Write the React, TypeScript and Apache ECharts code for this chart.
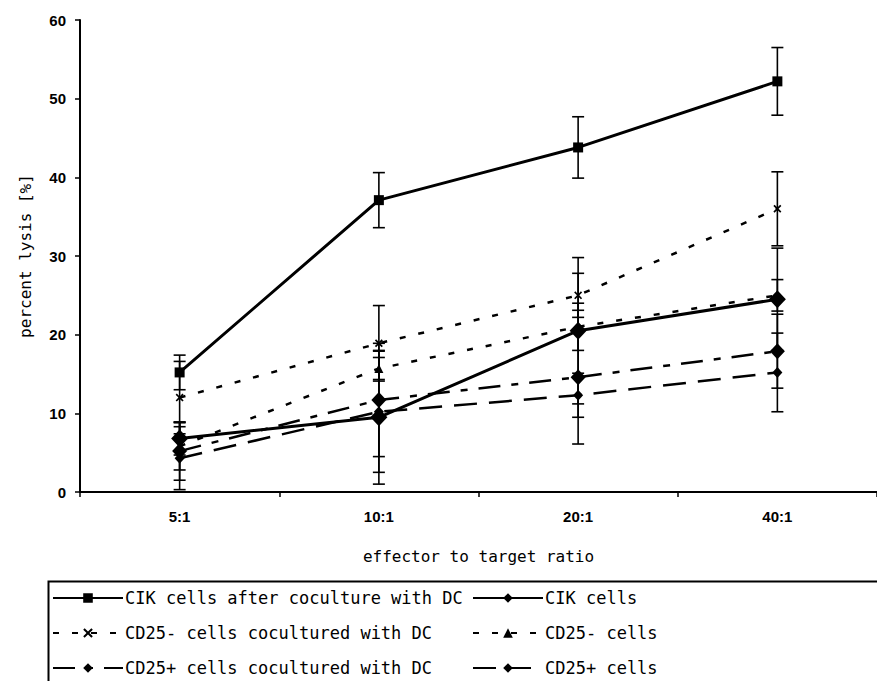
import React, { useEffect, useRef } from 'react';
import * as echarts from 'echarts';

const categories = ['5:1', '10:1', '20:1', '40:1'];

const cikAfterDC = [15.2, 37.1, 43.8, 52.2];
const cikAfterDCErr = [2.2, 3.5, 3.9, 4.3];
const cikCells = [6.8, 9.5, 20.5, 24.5];
const cikCellsErr = [2.1, 8.5, 9.3, 6.5];
const cd25NegDC = [12.0, 18.9, 25.0, 36.0];
const cd25NegDCErr = [4.6, 4.8, 2.8, 4.7];
const cd25NegCells = [5.8, 15.7, 21.0, 25.0];
const cd25NegCellsErr = [3.0, 1.4, 3.0, 2.0];
const cd25PosDC = [5.2, 11.7, 14.6, 17.9];
const cd25PosDCErr = [3.7, 7.2, 8.5, 4.7];
const cd25PosCells = [4.3, 10.2, 12.3, 15.2];
const cd25PosCellsErr = [4.0, 7.7, 2.8, 5.0];

const seriesNames = [
  'CIK cells after coculture with DC',
  'CIK cells',
  'CD25- cells cocultured with DC',
  'CD25- cells',
  'CD25+ cells cocultured with DC',
  'CD25+ cells',
];

const X_SYMBOL =
  'path://M0,1.5L1.5,0L5,3.5L8.5,0L10,1.5L6.5,5L10,8.5L8.5,10L5,6.5L1.5,10L0,8.5L3.5,5Z';

const MONO = '"DejaVu Sans Mono", monospace';
const SANS = '"Liberation Sans", Arial, sans-serif';

export default function App() {
  const ref = useRef<HTMLDivElement>(null);

  useEffect(() => {
    if (!ref.current) return;
    const chart = echarts.init(ref.current, undefined, { renderer: 'svg' });

    const defs = [
      { name: seriesNames[0], values: cikAfterDC, errs: cikAfterDCErr, width: 3, dash: 'solid' as any, symbol: 'rect', size: 10 },
      { name: seriesNames[1], values: cikCells, errs: cikCellsErr, width: 3, dash: 'solid' as any, symbol: 'diamond', size: [17, 18] },
      { name: seriesNames[2], values: cd25NegDC, errs: cd25NegDCErr, width: 2.5, dash: [6, 13], symbol: X_SYMBOL, size: 8 },
      { name: seriesNames[3], values: cd25NegCells, errs: cd25NegCellsErr, width: 2.5, dash: [6, 13], symbol: 'triangle', size: 9 },
      { name: seriesNames[4], values: cd25PosDC, errs: cd25PosDCErr, width: 2.5, dash: [22, 11, 7, 11], symbol: 'diamond', size: [15, 16] },
      { name: seriesNames[5], values: cd25PosCells, errs: cd25PosCellsErr, width: 2.5, dash: [23, 12], symbol: 'diamond', size: [10, 11] },
    ];

    const errData: number[][] = [];
    defs.forEach((d) => {
      d.values.forEach((v, i) => {
        errData.push([i, v - d.errs[i], v + d.errs[i]]);
      });
    });

    const lineSeries = defs.map((d) => ({
      type: 'line',
      name: d.name,
      data: d.values,
      symbol: d.symbol,
      symbolSize: d.size,
      showAllSymbol: true,
      z: 3,
      itemStyle: { color: '#000' },
      lineStyle: { color: '#000', width: d.width, type: d.dash },
      emphasis: { disabled: true },
    }));

    const legendPos = [
      [52, 598],
      [472, 598],
      [52, 633],
      [472, 633],
      [52, 668],
      [472, 668],
    ];

    const legends = seriesNames.map((n, i) => ({
      data: [n],
      left: legendPos[i][0],
      top: legendPos[i][1] - 9,
      padding: 0,
      itemWidth: 70,
      itemHeight: 12,
      itemGap: 0,
      selectedMode: false,
      textStyle: { fontFamily: MONO, fontSize: 17, color: '#000', lineHeight: 18, padding: [0, 0, 0, -3] },
    }));

    chart.setOption({
      animation: false,
      backgroundColor: '#fff',
      grid: { left: 80, top: 20, width: 808, height: 472, containLabel: false },
      legend: legends,
      xAxis: {
        type: 'category',
        data: categories,
        boundaryGap: true,
        name: 'effector to target ratio',
        nameLocation: 'middle',
        nameGap: 56,
        nameTextStyle: { fontFamily: MONO, fontSize: 16, color: '#000' },
        axisLine: { lineStyle: { color: '#000', width: 2 } },
        axisTick: { show: true, length: 5, inside: false, lineStyle: { color: '#000', width: 1.5 } },
        axisLabel: { margin: 17, fontFamily: SANS, fontSize: 15, fontWeight: 'bold', color: '#000' },
        splitLine: { show: false },
      },
      yAxis: {
        type: 'value',
        min: 0,
        max: 60,
        interval: 10,
        name: 'percent lysis [%]',
        nameLocation: 'middle',
        nameGap: 47,
        nameRotate: 90,
        nameTextStyle: { fontFamily: MONO, fontSize: 16, color: '#000' },
        axisLine: { show: true, lineStyle: { color: '#000', width: 2 } },
        axisTick: { show: true, length: 5, lineStyle: { color: '#000', width: 1.5 } },
        axisLabel: { margin: 14, fontFamily: SANS, fontSize: 15, fontWeight: 'bold', color: '#000' },
        splitLine: { show: false },
      },
      graphic: [
        {
          type: 'rect',
          left: 46,
          top: 579,
          shape: { width: 900, height: 200 },
          style: { fill: 'none', stroke: '#000', lineWidth: 2 },
          z: 0,
          silent: true,
        },
      ],
      series: [
        {
          type: 'custom',
          name: 'error',
          data: errData,
          encode: { x: 0, y: [1, 2] },
          z: 2,
          silent: true,
          renderItem: (params: any, api: any) => {
            const xi = api.value(0);
            const lo = api.coord([xi, api.value(1)]);
            const hi = api.coord([xi, api.value(2)]);
            const w = 6;
            const st = { stroke: '#000', lineWidth: 1.6 };
            return {
              type: 'group',
              children: [
                { type: 'line', shape: { x1: lo[0], y1: lo[1], x2: hi[0], y2: hi[1] }, style: st },
                { type: 'line', shape: { x1: lo[0] - w, y1: lo[1], x2: lo[0] + w, y2: lo[1] }, style: st },
                { type: 'line', shape: { x1: hi[0] - w, y1: hi[1], x2: hi[0] + w, y2: hi[1] }, style: st },
              ],
            };
          },
        },
        ...lineSeries,
      ],
    } as any);

    return () => chart.dispose();
  }, []);

  return (
    <div
      ref={ref}
      style={{ position: 'fixed', left: 0, top: 0, width: 877, height: 681, background: '#fff' }}
    />
  );
}
